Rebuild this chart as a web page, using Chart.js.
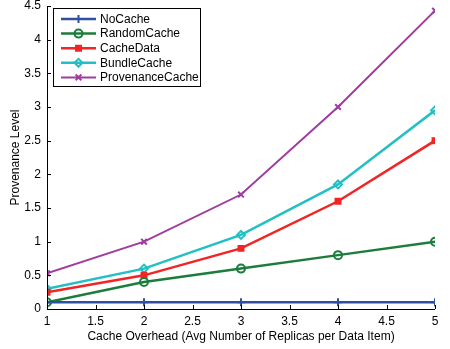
<!DOCTYPE html>
<html><head><meta charset="utf-8">
<script src="https://cdn.jsdelivr.net/npm/chart.js@4"></script>
<style>html,body{margin:0;padding:0;background:#fff}#wrap{width:450px;height:349px}</style>
</head><body><div id="wrap"><canvas id="c" width="450" height="349"></canvas></div>
<script>
const overhead = [1, 2, 3, 4, 5];
const noCache = [0.1, 0.1, 0.1, 0.1, 0.1];
const randomCache = [0.1, 0.4, 0.6, 0.8, 1.0];
const cacheData = [0.25, 0.5, 0.9, 1.6, 2.5];
const bundleCache = [0.3, 0.6, 1.1, 1.85, 2.95];
const provenanceCache = [0.53, 1.0, 1.7, 3.0, 4.43];
const seriesNames = ['NoCache', 'RandomCache', 'CacheData', 'BundleCache', 'ProvenanceCache'];
const xTicks = [1, 1.5, 2, 2.5, 3, 3.5, 4, 4.5, 5];
const yTicks = [0, 0.5, 1, 1.5, 2, 2.5, 3, 3.5, 4, 4.5];

const colors = ['#2f4fa2', '#1c7c3c', '#f22424', '#22c0c4', '#a03ca0'];
const styles = ['cross', 'circle', 'rect', 'rectRot', 'crossRot'];
const fills = [false, false, true, false, false];
const allVals = [noCache, randomCache, cacheData, bundleCache, provenanceCache];

const datasets = allVals.map((vals, i) => ({
  label: seriesNames[i],
  data: vals.map((v, j) => ({x: overhead[j], y: v})),
  borderColor: colors[i],
  backgroundColor: fills[i] ? colors[i] : 'rgba(255,255,255,0)',
  pointBorderColor: colors[i],
  pointBackgroundColor: fills[i] ? colors[i] : 'rgba(255,255,255,0)',
  pointStyle: styles[i],
  pointRadius: i === 2 ? 3.5 : 4,
  pointBorderWidth: 2,
  borderWidth: i === 4 ? 2 : 2.5,
  tension: 0,
  fill: false
}));

const FONT = 'Liberation Sans, Arial, sans-serif';

const decor = {
  id: 'decor',
  afterDraw(chart) {
    const ctx = chart.ctx, ca = chart.chartArea;
    const xs = chart.scales.x, ys = chart.scales.y;
    ctx.save();
    ctx.strokeStyle = '#000'; ctx.lineWidth = 1;
    ctx.beginPath();
    ctx.moveTo(ca.left + 0.5, ca.top); ctx.lineTo(ca.left + 0.5, ca.bottom + 0.5);
    ctx.lineTo(ca.right, ca.bottom + 0.5);
    xTicks.forEach(t => { const px = Math.round(xs.getPixelForValue(t)) + 0.5; ctx.moveTo(px, ca.bottom); ctx.lineTo(px, ca.bottom - 4); });
    yTicks.forEach(t => { const py = Math.round(ys.getPixelForValue(t)) + 0.5; ctx.moveTo(ca.left, py); ctx.lineTo(ca.left + 4, py); });
    ctx.stroke();
    // legend
    const bx = 53.5, by = 8.5, bw = 147, bh = 78;
    ctx.fillStyle = '#fff'; ctx.fillRect(bx, by, bw, bh);
    ctx.strokeRect(bx, by, bw, bh);
    ctx.font = '12px ' + FONT; ctx.textBaseline = 'middle'; ctx.textAlign = 'left';
    chart.data.datasets.forEach((ds, i) => {
      const y = by + 10.5 + i * 14.6;
      ctx.strokeStyle = ds.borderColor; ctx.lineWidth = ds.borderWidth;
      ctx.beginPath(); ctx.moveTo(61, y); ctx.lineTo(96, y); ctx.stroke();
      ctx.fillStyle = ds.pointBackgroundColor; ctx.strokeStyle = ds.borderColor; ctx.lineWidth = 2;
      Chart.helpers.drawPoint(ctx, {pointStyle: ds.pointStyle, radius: ds.pointRadius, borderWidth: 2}, 78.5, y);
      ctx.fillStyle = '#000';
      ctx.fillText(ds.label, 100, y + 0.5);
    });
    ctx.restore();
  }
};

new Chart(document.getElementById('c'), {
  type: 'line',
  data: { datasets },
  options: {
    responsive: false, animation: false,
    layout: { padding: { top: 5, right: 15, left: 0, bottom: 0 } },
    plugins: { legend: { display: false }, tooltip: { enabled: false } },
    scales: {
      x: {
        type: 'linear', min: 1, max: 5,
        afterBuildTicks: s => { s.ticks = xTicks.map(v => ({value: v})); },
        afterFit: s => { s.height = 40; s.paddingLeft = 0; s.paddingRight = 0; },
        grid: { display: false, drawTicks: false },
        border: { display: false },
        ticks: { color: '#000', font: { family: FONT, size: 12 }, padding: 5, maxRotation: 0, autoSkip: false, callback: v => String(v) },
        title: { display: true, text: 'Cache Overhead (Avg Number of Replicas per Data Item)', color: '#000', font: { family: FONT, size: 12 }, padding: { top: 0, bottom: 5 } }
      },
      y: {
        type: 'linear', min: 0, max: 4.5,
        afterBuildTicks: s => { s.ticks = yTicks.map(v => ({value: v})); },
        afterFit: s => { s.width = 47; s.paddingTop = 0; s.paddingBottom = 0; },
        grid: { display: false, drawTicks: false },
        border: { display: false },
        ticks: { color: '#000', font: { family: FONT, size: 12 }, padding: 6, autoSkip: false, callback: v => String(v) },
        title: { display: true, text: 'Provenance Level', color: '#000', font: { family: FONT, size: 12 }, padding: { top: 8, bottom: 2 } }
      }
    }
  },
  plugins: [decor]
});
</script></body></html>
